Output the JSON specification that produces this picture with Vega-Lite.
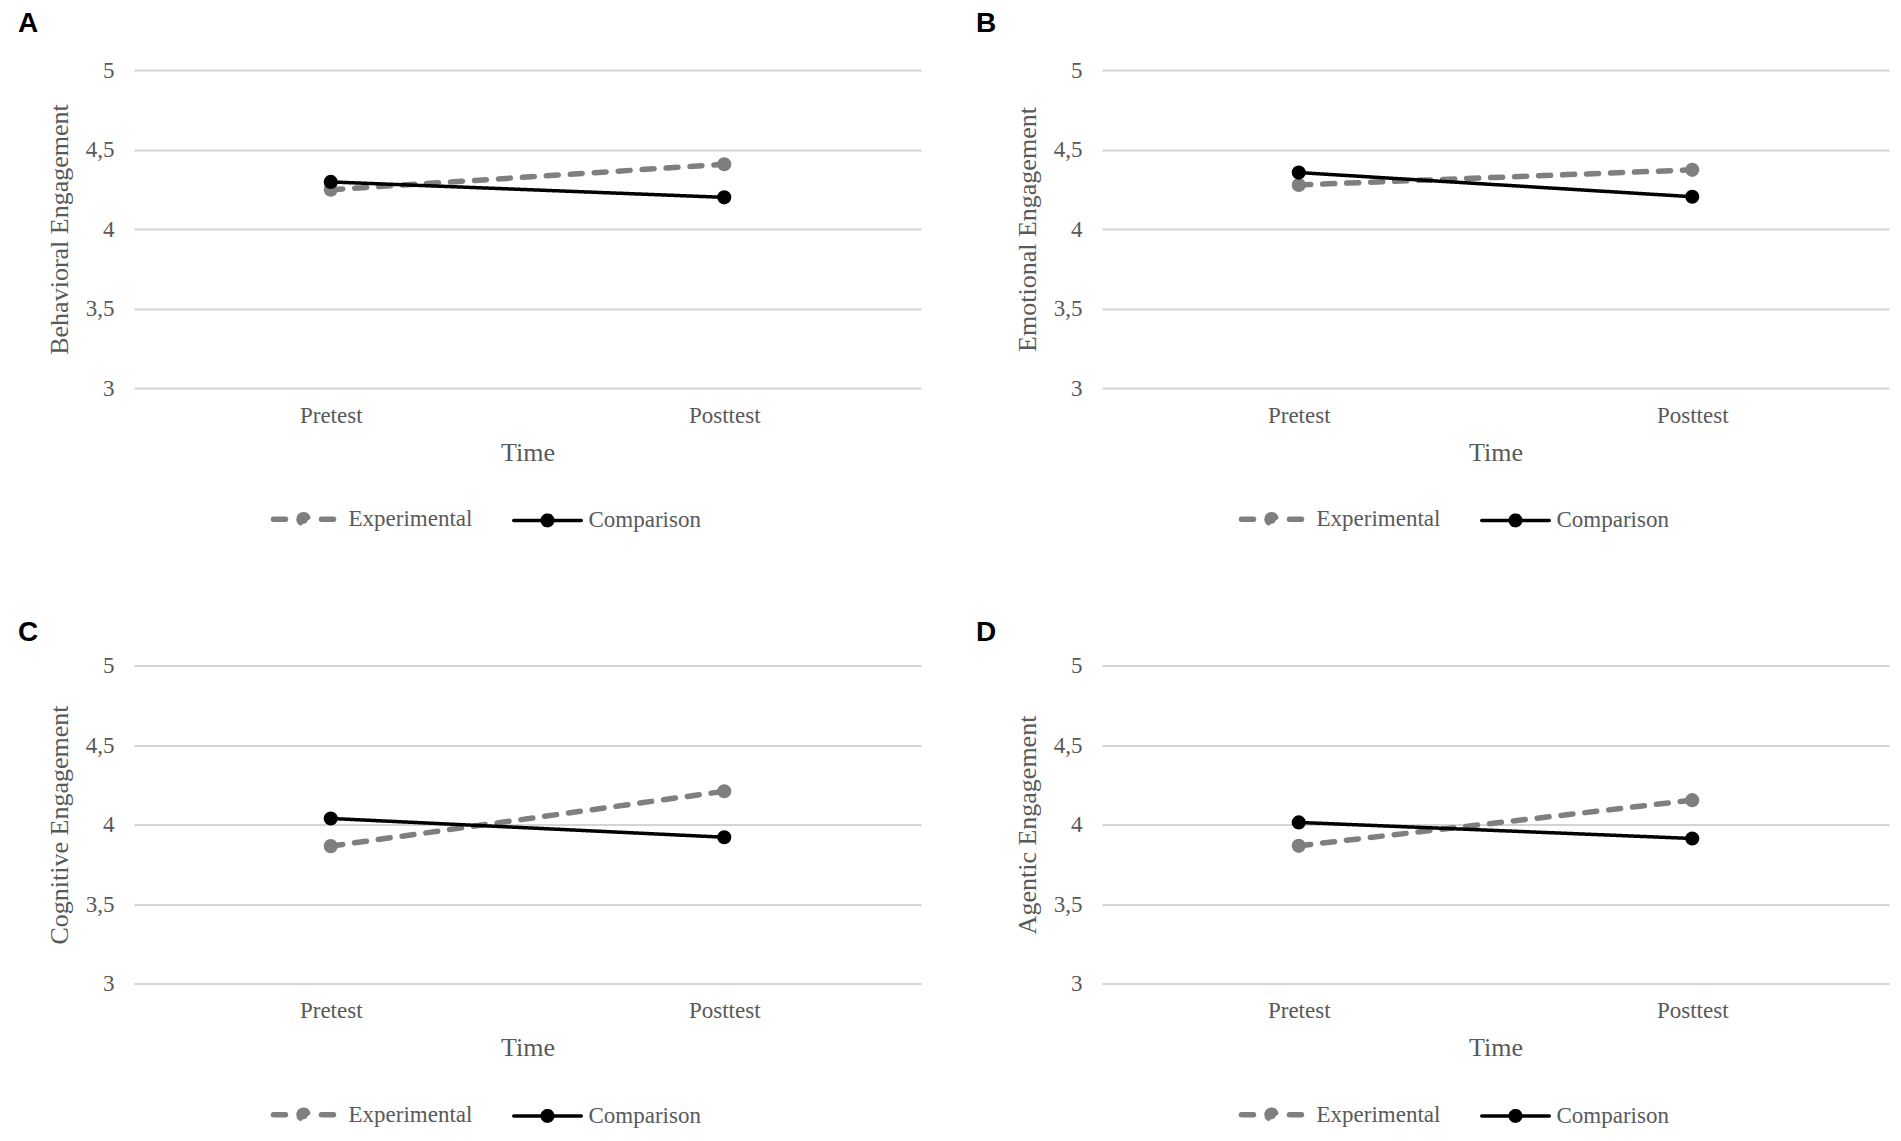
{
  "$schema": "https://vega.github.io/schema/vega-lite/v6.json",
  "background": "white",
  "padding": {"left": 18, "top": 10, "right": 5, "bottom": 5},
  "config": {
    "view": {"stroke": null},
    "axisY": {
      "domain": false, "ticks": false, "tickSize": 0, "grid": true, "gridColor": "#d4d4d4", "gridWidth": 2,
      "labelPadding": 20, "labelFont": "Liberation Serif", "labelFontSize": 23, "labelColor": "#595959",
      "titleFont": "Liberation Serif", "titleFontSize": 26, "titleFontWeight": "normal", "titleColor": "#595959",
      "titlePadding": 12, "minExtent": 50, "maxExtent": 50
    },
    "axisX": {
      "domain": false, "ticks": false, "tickSize": 0, "grid": false, "labelAngle": 0,
      "labelPadding": 16, "labelFont": "Liberation Serif", "labelFontSize": 23, "labelColor": "#595959",
      "titleFont": "Liberation Serif", "titleFontSize": 26, "titleFontWeight": "normal", "titleColor": "#595959",
      "titlePadding": 12
    },
    "legend": {
      "orient": "none", "legendX": 134, "legendY": 436, "direction": "horizontal", "title": null,
      "labelFont": "Liberation Serif", "labelFontSize": 23, "labelColor": "#595959",
      "columnPadding": 33, "symbolSize": 400, "symbolStrokeWidth": 5, "symbolOffset": 22.5, "labelOffset": 32, "padding": 0
    },
    "title": {"font": "Liberation Sans", "fontSize": 28, "fontWeight": "bold", "color": "#000000", "anchor": "start", "frame": "group"}
  },
  "datasets": {
    "d": [
      {"panel": "A", "group": "Experimental", "time": "Pretest", "value": 4.247},
      {"panel": "A", "group": "Experimental", "time": "Posttest", "value": 4.407},
      {"panel": "A", "group": "Comparison", "time": "Pretest", "value": 4.296},
      {"panel": "A", "group": "Comparison", "time": "Posttest", "value": 4.199},
      {"panel": "B", "group": "Experimental", "time": "Pretest", "value": 4.277},
      {"panel": "B", "group": "Experimental", "time": "Posttest", "value": 4.372},
      {"panel": "B", "group": "Comparison", "time": "Pretest", "value": 4.355},
      {"panel": "B", "group": "Comparison", "time": "Posttest", "value": 4.203},
      {"panel": "C", "group": "Experimental", "time": "Pretest", "value": 3.864},
      {"panel": "C", "group": "Experimental", "time": "Posttest", "value": 4.209},
      {"panel": "C", "group": "Comparison", "time": "Pretest", "value": 4.038},
      {"panel": "C", "group": "Comparison", "time": "Posttest", "value": 3.92},
      {"panel": "D", "group": "Experimental", "time": "Pretest", "value": 3.866},
      {"panel": "D", "group": "Experimental", "time": "Posttest", "value": 4.153},
      {"panel": "D", "group": "Comparison", "time": "Pretest", "value": 4.013},
      {"panel": "D", "group": "Comparison", "time": "Posttest", "value": 3.912}
    ]
  },
  "columns": 2,
  "spacing": {"row": 83.5, "column": 55},
  "concat": [
    {
      "width": 787, "height": 318,
      "title": {"text": "A", "dx": -116, "offset": 21},
      "data": {"name": "d"},
      "transform": [{"filter": "datum.panel === 'A'"}],
      "encoding": {
        "x": {"field": "time", "type": "nominal", "sort": ["Pretest", "Posttest"], "scale": {"type": "point", "padding": 0.5}, "axis": {"title": "Time"}},
        "y": {"field": "value", "type": "quantitative", "scale": {"domain": [3, 5], "nice": false, "zero": false}, "axis": {"title": "Behavioral Engagement", "values": [3, 3.5, 4, 4.5, 5], "labelExpr": "replace(format(datum.value, '~g'), '.', ',')"}},
        "color": {"field": "group", "type": "nominal", "scale": {"domain": ["Experimental", "Comparison"], "range": ["#7f7f7f", "#000000"]},
          "legend": {"encode": {"symbols": {"update": {
            "shape": {"signal": "datum.value === 'Experimental' ? 'M-3,0H-1.8M1.8,0H3M-0.45,0A0.45,0.45,0,1,1,0.45,0A0.45,0.45,0,1,1,-0.45,0Z' : 'M-3.075,0H3.675M-0.225,0A0.525,0.525,0,1,1,0.825,0A0.525,0.525,0,1,1,-0.225,0Z'"},
            "fill": {"signal": "datum.value === 'Experimental' ? '#7f7f7f' : '#000000'"},
            "stroke": {"signal": "datum.value === 'Experimental' ? '#7f7f7f' : '#000000'"},
            "strokeWidth": {"signal": "datum.value === 'Experimental' ? 5 : 3.5"},
            "strokeCap": {"value": "round"},
            "size": {"value": 400},
            "opacity": {"value": 1}, "fillOpacity": {"value": 1}, "strokeOpacity": {"value": 1}
          }}}}
        }
      },
      "layer": [
        {"mark": {"type": "line", "strokeCap": "round"},
         "encoding": {
           "strokeDash": {"field": "group", "type": "nominal", "scale": {"domain": ["Experimental", "Comparison"], "range": [[12, 12], [1, 0]]}, "legend": null},
           "strokeWidth": {"field": "group", "type": "nominal", "scale": {"domain": ["Experimental", "Comparison"], "range": [5.5, 3.5]}, "legend": null}
         }},
        {"mark": {"type": "point", "filled": true, "size": 200, "opacity": 1}}
      ]
    },
    {
      "width": 787, "height": 318,
      "title": {"text": "B", "dx": -126, "offset": 21},
      "data": {"name": "d"},
      "transform": [{"filter": "datum.panel === 'B'"}],
      "encoding": {
        "x": {"field": "time", "type": "nominal", "sort": ["Pretest", "Posttest"], "scale": {"type": "point", "padding": 0.5}, "axis": {"title": "Time"}},
        "y": {"field": "value", "type": "quantitative", "scale": {"domain": [3, 5], "nice": false, "zero": false}, "axis": {"title": "Emotional Engagement", "values": [3, 3.5, 4, 4.5, 5], "labelExpr": "replace(format(datum.value, '~g'), '.', ',')"}},
        "color": {"field": "group", "type": "nominal", "scale": {"domain": ["Experimental", "Comparison"], "range": ["#7f7f7f", "#000000"]},
          "legend": {"encode": {"symbols": {"update": {
            "shape": {"signal": "datum.value === 'Experimental' ? 'M-3,0H-1.8M1.8,0H3M-0.45,0A0.45,0.45,0,1,1,0.45,0A0.45,0.45,0,1,1,-0.45,0Z' : 'M-3.075,0H3.675M-0.225,0A0.525,0.525,0,1,1,0.825,0A0.525,0.525,0,1,1,-0.225,0Z'"},
            "fill": {"signal": "datum.value === 'Experimental' ? '#7f7f7f' : '#000000'"},
            "stroke": {"signal": "datum.value === 'Experimental' ? '#7f7f7f' : '#000000'"},
            "strokeWidth": {"signal": "datum.value === 'Experimental' ? 5 : 3.5"},
            "strokeCap": {"value": "round"},
            "size": {"value": 400},
            "opacity": {"value": 1}, "fillOpacity": {"value": 1}, "strokeOpacity": {"value": 1}
          }}}}
        }
      },
      "layer": [
        {"mark": {"type": "line", "strokeCap": "round"},
         "encoding": {
           "strokeDash": {"field": "group", "type": "nominal", "scale": {"domain": ["Experimental", "Comparison"], "range": [[12, 12], [1, 0]]}, "legend": null},
           "strokeWidth": {"field": "group", "type": "nominal", "scale": {"domain": ["Experimental", "Comparison"], "range": [5.5, 3.5]}, "legend": null}
         }},
        {"mark": {"type": "point", "filled": true, "size": 200, "opacity": 1}}
      ]
    },
    {
      "width": 787, "height": 318,
      "title": {"text": "C", "dx": -116, "offset": 7.5},
      "data": {"name": "d"},
      "transform": [{"filter": "datum.panel === 'C'"}],
      "encoding": {
        "x": {"field": "time", "type": "nominal", "sort": ["Pretest", "Posttest"], "scale": {"type": "point", "padding": 0.5}, "axis": {"title": "Time"}},
        "y": {"field": "value", "type": "quantitative", "scale": {"domain": [3, 5], "nice": false, "zero": false}, "axis": {"title": "Cognitive Engagement", "values": [3, 3.5, 4, 4.5, 5], "labelExpr": "replace(format(datum.value, '~g'), '.', ',')"}},
        "color": {"field": "group", "type": "nominal", "scale": {"domain": ["Experimental", "Comparison"], "range": ["#7f7f7f", "#000000"]},
          "legend": {"encode": {"symbols": {"update": {
            "shape": {"signal": "datum.value === 'Experimental' ? 'M-3,0H-1.8M1.8,0H3M-0.45,0A0.45,0.45,0,1,1,0.45,0A0.45,0.45,0,1,1,-0.45,0Z' : 'M-3.075,0H3.675M-0.225,0A0.525,0.525,0,1,1,0.825,0A0.525,0.525,0,1,1,-0.225,0Z'"},
            "fill": {"signal": "datum.value === 'Experimental' ? '#7f7f7f' : '#000000'"},
            "stroke": {"signal": "datum.value === 'Experimental' ? '#7f7f7f' : '#000000'"},
            "strokeWidth": {"signal": "datum.value === 'Experimental' ? 5 : 3.5"},
            "strokeCap": {"value": "round"},
            "size": {"value": 400},
            "opacity": {"value": 1}, "fillOpacity": {"value": 1}, "strokeOpacity": {"value": 1}
          }}}}
        }
      },
      "layer": [
        {"mark": {"type": "line", "strokeCap": "round"},
         "encoding": {
           "strokeDash": {"field": "group", "type": "nominal", "scale": {"domain": ["Experimental", "Comparison"], "range": [[12, 12], [1, 0]]}, "legend": null},
           "strokeWidth": {"field": "group", "type": "nominal", "scale": {"domain": ["Experimental", "Comparison"], "range": [5.5, 3.5]}, "legend": null}
         }},
        {"mark": {"type": "point", "filled": true, "size": 200, "opacity": 1}}
      ]
    },
    {
      "width": 787, "height": 318,
      "title": {"text": "D", "dx": -126, "offset": 7.5},
      "data": {"name": "d"},
      "transform": [{"filter": "datum.panel === 'D'"}],
      "encoding": {
        "x": {"field": "time", "type": "nominal", "sort": ["Pretest", "Posttest"], "scale": {"type": "point", "padding": 0.5}, "axis": {"title": "Time"}},
        "y": {"field": "value", "type": "quantitative", "scale": {"domain": [3, 5], "nice": false, "zero": false}, "axis": {"title": "Agentic Engagement", "values": [3, 3.5, 4, 4.5, 5], "labelExpr": "replace(format(datum.value, '~g'), '.', ',')"}},
        "color": {"field": "group", "type": "nominal", "scale": {"domain": ["Experimental", "Comparison"], "range": ["#7f7f7f", "#000000"]},
          "legend": {"encode": {"symbols": {"update": {
            "shape": {"signal": "datum.value === 'Experimental' ? 'M-3,0H-1.8M1.8,0H3M-0.45,0A0.45,0.45,0,1,1,0.45,0A0.45,0.45,0,1,1,-0.45,0Z' : 'M-3.075,0H3.675M-0.225,0A0.525,0.525,0,1,1,0.825,0A0.525,0.525,0,1,1,-0.225,0Z'"},
            "fill": {"signal": "datum.value === 'Experimental' ? '#7f7f7f' : '#000000'"},
            "stroke": {"signal": "datum.value === 'Experimental' ? '#7f7f7f' : '#000000'"},
            "strokeWidth": {"signal": "datum.value === 'Experimental' ? 5 : 3.5"},
            "strokeCap": {"value": "round"},
            "size": {"value": 400},
            "opacity": {"value": 1}, "fillOpacity": {"value": 1}, "strokeOpacity": {"value": 1}
          }}}}
        }
      },
      "layer": [
        {"mark": {"type": "line", "strokeCap": "round"},
         "encoding": {
           "strokeDash": {"field": "group", "type": "nominal", "scale": {"domain": ["Experimental", "Comparison"], "range": [[12, 12], [1, 0]]}, "legend": null},
           "strokeWidth": {"field": "group", "type": "nominal", "scale": {"domain": ["Experimental", "Comparison"], "range": [5.5, 3.5]}, "legend": null}
         }},
        {"mark": {"type": "point", "filled": true, "size": 200, "opacity": 1}}
      ]
    }
  ],
  "resolve": {"scale": {"color": "independent", "strokeDash": "independent", "strokeWidth": "independent"}, "legend": {"color": "independent"}}
}
